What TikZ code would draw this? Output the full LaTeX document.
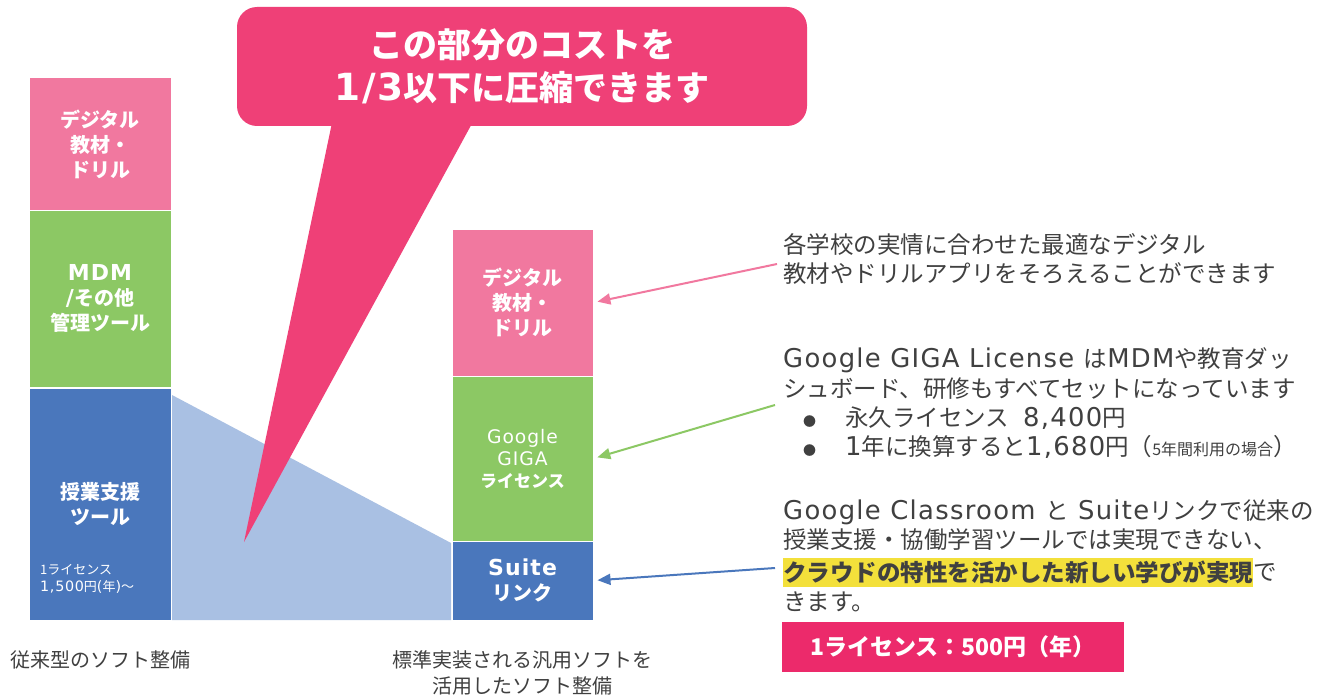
\documentclass[tikz,border=0pt]{standalone}
\usepackage{fontspec}
\setmainfont{Noto Sans CJK JP}
\newfontfamily\latf{DejaVu Sans}[Scale=1.1,LetterSpace=5]
\usetikzlibrary{arrows.meta}
\definecolor{callc}{HTML}{EF4077}
\definecolor{pinkc}{HTML}{F1789F}
\definecolor{greenc}{HTML}{8CC864}
\definecolor{bluec}{HTML}{4A77BC}
\definecolor{lbluec}{HTML}{A9C0E3}
\definecolor{pricec}{HTML}{EC2A6B}
\definecolor{yellc}{HTML}{F3E03B}
\definecolor{grayc}{HTML}{404040}
\newcommand{\lt}[1]{{\latf #1}}
\tikzset{
  box/.style={draw=white, line width=1pt, inner sep=0pt, align=center, text=white,
    font=\fontsize{20}{25}\selectfont\bfseries},
  arr/.style={line width=2pt, -{Triangle[length=13pt,width=11pt]}, shorten >=4pt},
  body/.style={inner sep=0pt, text=grayc, align=left, font=\fontsize{23.5}{29}\selectfont},
  lab/.style={inner sep=0pt, text=grayc, font=\fontsize{20}{26}\selectfont}
}
\begin{document}
\begin{tikzpicture}[x=1pt,y=-1pt]
\useasboundingbox[fill=white] (0,0) rectangle (1335,698);
% light blue trapezoid
\fill[lbluec] (172,395) -- (451,543) -- (451,620) -- (172,620) -- cycle;
% left column
\node[box, fill=pinkc, minimum width=142, minimum height=132] (lpink) at (100,144) {デジタル\\教材・\\ドリル};
\node[box, fill=greenc, minimum width=142, minimum height=177] (lgreen) at (100,298.5) {\lt{MDM}\\\lt{/}その他\\管理ツール};
\node[box, fill=bluec, minimum width=142, minimum height=232] (lblue) at (100,504) {授業支援\\ツール};
\node[inner sep=0pt, anchor=west, align=left, text=white, font=\fontsize{13}{16.5}\selectfont] (lprice) at (40,579) {1ライセンス\\\lt{1,500}円\lt{(}年\lt{)}～};
% right column
\node[box, fill=pinkc, minimum width=141, minimum height=147] (rpink) at (522.5,302.5) {デジタル\\教材・\\ドリル};
\node[box, fill=greenc, minimum width=141, minimum height=165, font=\fontsize{17}{22}\selectfont\bfseries] (rgreen) at (522.5,458.5) {{\latf\mdseries Google}\\{\latf\mdseries GIGA}\\ライセンス};
\node[box, fill=bluec, minimum width=141, minimum height=79] (rblue) at (522.5,580.5) {\lt{Suite}\\リンク};
% callout
\fill[callc] (333,118) -- (244,542) -- (475,118) -- cycle;
\node[fill=callc, rounded corners=20pt, minimum width=570, minimum height=119, inner sep=0pt,
  text=white, align=center, font=\fontsize{34}{43}\selectfont\bfseries] (call) at (522,66.5)
  {この部分のコストを\\\lt{1/3}以下に圧縮できます};
% right texts
\node[body, anchor=west] (t1) at (783,258.5) {各学校の実情に合わせた最適なデジタル\\教材やドリルアプリをそろえることができます};
\node[body, anchor=west, font=\fontsize{23.5}{29.3}\selectfont] (t2) at (783,403.5) {\lt{Google GIGA License }は\lt{MDM}や教育ダッ\\シュボード、研修もすべてセットになっています\\
\hspace*{20pt}\makebox[42pt][l]{\fontsize{13}{13}\selectfont ●}永久ライセンス\hspace{14pt}\lt{8,400}円\\
\hspace*{20pt}\makebox[42pt][l]{\fontsize{13}{13}\selectfont ●}\lt{1}年に換算すると\lt{1,680}円（{\fontsize{16}{16}\selectfont 5年間利用の場合}）};
\node[body, anchor=west] (t3a) at (783,512) {\lt{Google Classroom }と\lt{ Suite}リンクで従来の};
\node[body, anchor=west] (t3b) at (783,540) {授業支援・協働学習ツールでは実現できない、};
\node[body, anchor=west, fill=yellc, inner ysep=3pt, font=\fontsize{23.5}{29}\selectfont\bfseries] (t3c) at (783,572) {クラウドの特性を活かした新しい学びが実現};
\node[body, anchor=west] (t3d) at (t3c.east) {で};
\node[body, anchor=west] (t3e) at (783,602) {きます。};
\node[fill=pricec, minimum width=342, minimum height=50, inner sep=0pt, text=white,
  font=\fontsize{23}{26}\selectfont\bfseries] (price) at (953,647) {1ライセンス：500円（年）};
% arrows
\coordinate (s1) at (777,264);
\coordinate (s2) at (775,405);
\coordinate (s3) at (775,568);
\draw[arr, pinkc] (s1) -- (rpink.east);
\draw[arr, greenc] (s2) -- (rgreen.east);
\draw[arr, bluec] (s3) -- (rblue.east);
% bottom labels
\node[lab, anchor=west] (b1) at (10,660) {従来型のソフト整備};
\node[lab, align=center] (b2) at (522,673) {標準実装される汎用ソフトを\\活用したソフト整備};
\end{tikzpicture}
\end{document}
